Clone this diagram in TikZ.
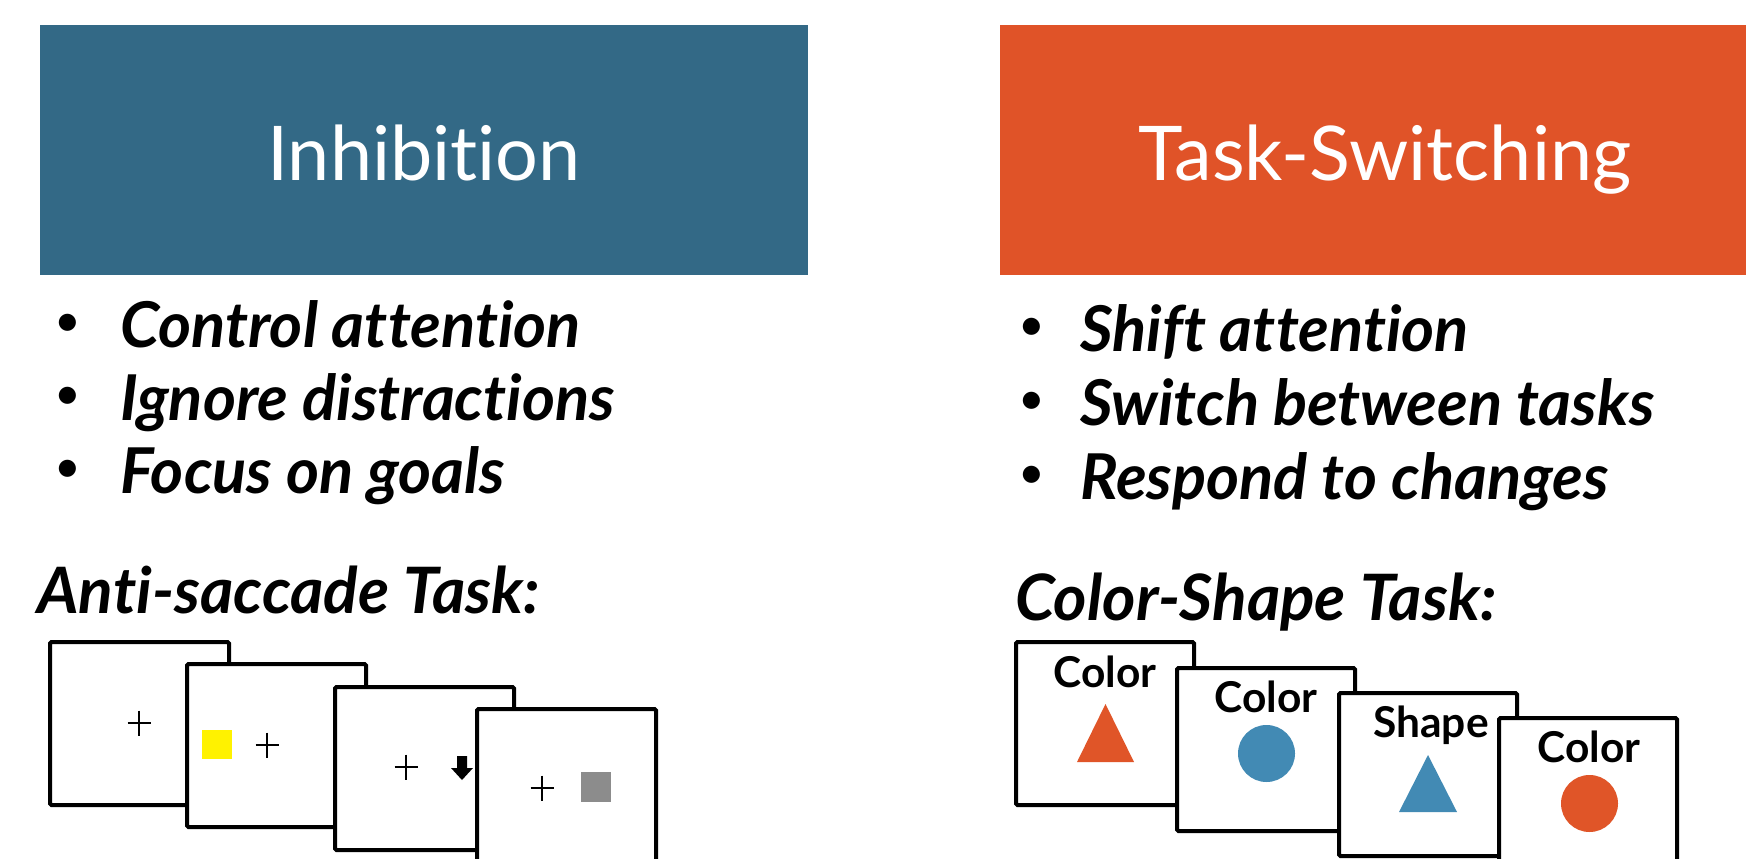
\documentclass[tikz,border=0pt]{standalone}
\usepackage{fontspec}
\setmainfont{Lato}[Ligatures={NoCommon,NoRare,NoContextual}]
\definecolor{inhib}{HTML}{336986}
\definecolor{tswitch}{HTML}{E05328}
\definecolor{shapeblue}{HTML}{428AB4}
\definecolor{shapeorange}{HTML}{E05528}
\definecolor{stimyellow}{HTML}{FFF200}
\tikzset{
  titletext/.style={text=white, inner sep=0pt, anchor=base, font=\fontsize{75.5}{80}\selectfont},
  bullettext/.style={inner sep=0pt, anchor=base west, font=\fontsize{63.2}{70}\selectfont\bfseries\itshape},
  bulletdot/.style={inner sep=0pt, anchor=center, font=\fontsize{46}{50}\selectfont},
  headtext/.style={inner sep=0pt, anchor=base west, font=\fontsize{64}{70}\selectfont\bfseries\itshape},
  screen/.style={draw=black, fill=white, line width=4pt, rounded corners=1.5pt},
  labeltext/.style={inner sep=0pt, anchor=base, font=\fontsize{42.5}{45}\selectfont\bfseries},
  fixcross/.style={line width=2pt},
}
\begin{document}
\begin{tikzpicture}[x=1pt,y=-1pt]
\useasboundingbox (0,0) rectangle (1746,859);
\clip (0,0) rectangle (1746,859);
% header boxes
\fill[inhib] (40,25) rectangle (808,275);
\node[titletext] (tinh) at (424,180) {Inhibition};
\fill[tswitch] (1000,25) rectangle (1768,275);
\node[titletext] (tsw) at (1385,180) {Task-Switching};
% left bullets
\node[bulletdot] (ld1) at (68,325) {•};
\node[bullettext] (lb1) at (120,347) {Control attention};
\node[bulletdot] (ld2) at (68,398) {•};
\node[bullettext] (lb2) at (120,420) {Ignore distractions};
\node[bulletdot] (ld3) at (68,471) {•};
\node[bullettext] (lb3) at (120,493) {Focus on goals};
% right bullets
\node[bulletdot] (rd1) at (1032,329) {•};
\node[bullettext] (rb1) at (1080,351) {Shift attention};
\node[bulletdot] (rd2) at (1032,403) {•};
\node[bullettext] (rb2) at (1080,425) {Switch between tasks};
\node[bulletdot] (rd3) at (1032,477) {•};
\node[bullettext] (rb3) at (1080,499) {Respond to changes};
% task headings
\node[headtext] (hl) at (37,613) {Anti-saccade Task:};
\node[headtext] (hr) at (1015,620) {Color-Shape Task:};
% anti-saccade screens
\draw[screen] (50,642) rectangle ++(179,163);
\draw[fixcross] (127.5,723) -- (150.5,723) (139,710.5) -- (139,735.5);
\draw[screen] (187,664) rectangle ++(179,163);
\fill[stimyellow] (202,730) rectangle (232,759);
\draw[fixcross] (255.5,745) -- (278.5,745) (267,732.5) -- (267,757.5);
\draw[screen] (335,687) rectangle ++(179,163);
\draw[fixcross] (394.5,767) -- (417.5,767) (406,754.5) -- (406,779.5);
\fill[black] (457,756) -- (467,756) -- (467,768) -- (473,768) -- (462,780) -- (451,768) -- (457,768) -- cycle;
\draw[screen] (477,709) rectangle ++(179,163);
\draw[fixcross] (530.5,788) -- (553.5,788) (542,775.5) -- (542,800.5);
\fill[black!45] (581,772) rectangle (611,802);
% color-shape screens
\draw[screen] (1016,642) rectangle ++(178,163);
\node[labeltext] (c1) at (1105,687) {Color};
\fill[shapeorange] (1105.5,704) -- (1134,762) -- (1077,762) -- cycle;
\draw[screen] (1177,668) rectangle ++(178,163);
\node[labeltext] (c2) at (1266,712) {Color};
\fill[shapeblue] (1266.5,753.5) circle[radius=28.5];
\draw[screen] (1339,693) rectangle ++(178,163);
\node[labeltext] (c3) at (1431,737) {Shape};
\fill[shapeblue] (1428,755) -- (1457,812) -- (1399,812) -- cycle;
\draw[screen] (1499,718) rectangle ++(178,163);
\node[labeltext] (c4) at (1589,762) {Color};
\fill[shapeorange] (1589.5,803.5) circle[radius=28.5];
\end{tikzpicture}
\end{document}
